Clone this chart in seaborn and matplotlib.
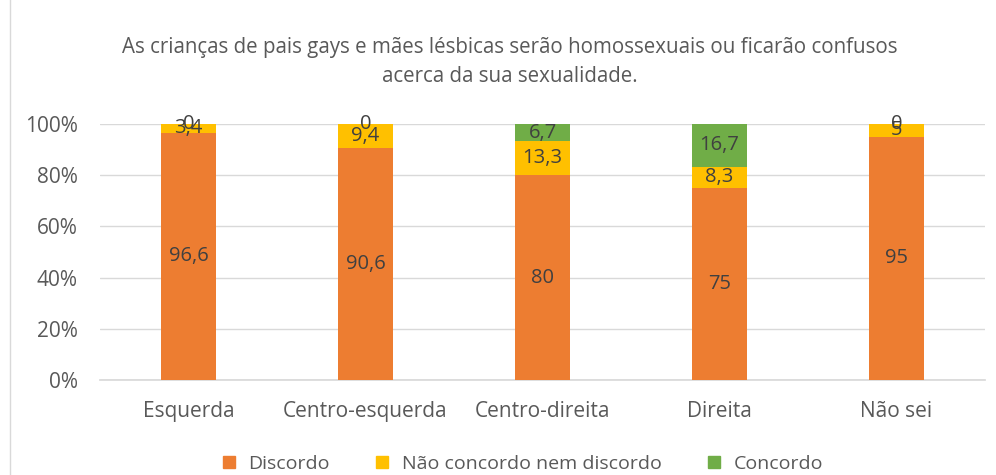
import numpy as np
import pandas as pd
import matplotlib
matplotlib.use('Agg')
import matplotlib.pyplot as plt
import seaborn as sns
from matplotlib.patches import Rectangle
from matplotlib.lines import Line2D

# --- data ---
categories = ['Esquerda', 'Centro-esquerda', 'Centro-direita', 'Direita', 'Não sei']
discordo = [96.6, 90.6, 80, 75, 95]
neutro = [3.4, 9.4, 13.3, 8.3, 5]
concordo = [0, 0, 6.7, 16.7, 0]
series_names = ['Discordo', 'Não concordo nem discordo', 'Concordo']
colors = ['#ED7D31', '#FFC000', '#70AD47']

title = ('As crianças de pais gays e mães lésbicas serão homossexuais ou ficarão confusos\n'
         'acerca da sua sexualidade.')

sns.set_theme(style='white')
plt.rcParams['font.family'] = ['Open Sans', 'DejaVu Sans']

df = pd.DataFrame({'cat': categories, 'd': discordo, 'n': neutro, 'c': concordo})
df['dn'] = df['d'] + df['n']
df['dnc'] = df['dn'] + df['c']

fig = plt.figure(figsize=(9.96, 4.75), dpi=100)
ax = fig.add_axes([100 / 996, 95 / 475, 885 / 996, 256 / 475])

# stacked bars drawn back to front with cumulative heights
for col, color in zip(['dnc', 'dn', 'd'], colors[::-1]):
    sns.barplot(data=df, x='cat', y=col, color=color, width=0.31,
                saturation=1, ax=ax, order=categories, zorder=3, linewidth=0)

# data labels centred in each segment
label_color = '#404040'
for i in range(len(categories)):
    bottoms = [0, discordo[i], discordo[i] + neutro[i]]
    for val, b in zip([discordo[i], neutro[i], concordo[i]], bottoms):
        txt = f'{val:g}'.replace('.', ',')
        ax.text(i, b + val / 2, txt, ha='center', va='center',
                fontsize=14.5, color=label_color, zorder=5)

ax.set_ylim(0, 100)
ax.set_xlim(-0.5, len(categories) - 0.5)
ax.set_yticks(np.arange(0, 101, 20))
ax.set_yticklabels([f'{v}%' for v in range(0, 101, 20)])
ax.yaxis.grid(True, color='#D9D9D9', linewidth=1, zorder=0)
ax.set_axisbelow(True)
ax.set_xlabel('')
ax.set_ylabel('')
for s in ['top', 'right', 'left']:
    ax.spines[s].set_visible(False)
ax.spines['bottom'].set_color('#D9D9D9')
ax.tick_params(axis='both', length=0, labelsize=15, colors='#595959')
ax.tick_params(axis='x', pad=15)
ax.tick_params(axis='y', pad=16)

fig.text(510 / 996, 1 - 62 / 475, title, ha='center', va='center',
         fontsize=14.8, color='#595959', linespacing=1.45)

handles = [Line2D([0], [0], marker='s', linestyle='', markersize=8,
                  markerfacecolor=c, markeredgecolor=c) for c in colors]
fig.legend(handles, series_names, loc='center', bbox_to_anchor=(516 / 996, 11 / 475),
           ncol=3, frameon=False, fontsize=14, labelcolor='#595959',
           handletextpad=0.0, columnspacing=1.7)

fig.patches.append(Rectangle((10 / 996, -0.1), 1.2, 1.2, transform=fig.transFigure,
                             fill=False, edgecolor='#D9D9D9', linewidth=1))

fig.savefig('out.png', dpi=100)
